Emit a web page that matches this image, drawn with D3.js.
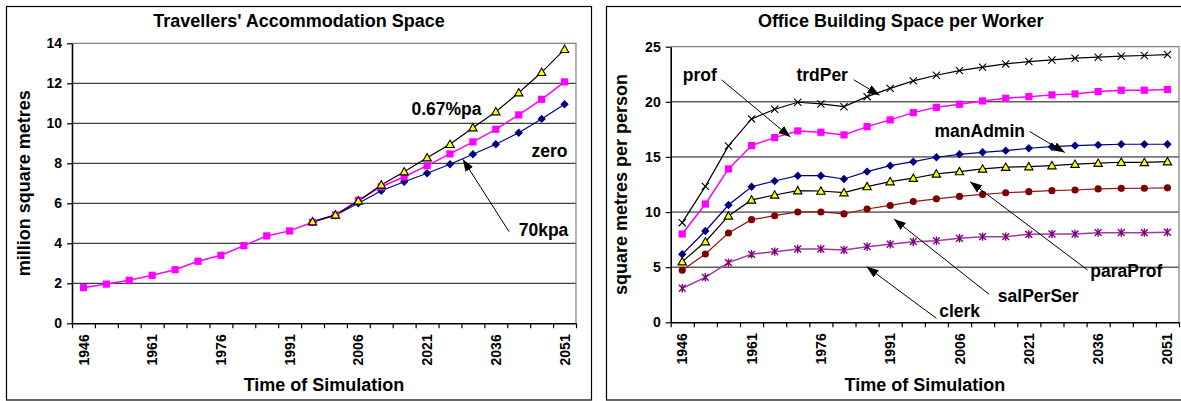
<!DOCTYPE html>
<html>
<head>
<meta charset="utf-8">
<script src="https://cdn.jsdelivr.net/npm/d3@7"></script>
<style>
  html, body { margin: 0; padding: 0; background: #fff; }
  svg { display: block; }
  text { font-family: "Liberation Sans", Arial, sans-serif; font-weight: bold; fill: #000; }
</style>
</head>
<body>
<script>
// Simulation years (category axis)
const years = [1946, 1951, 1956, 1961, 1966, 1971, 1976, 1981, 1986, 1991, 1996,
               2001, 2006, 2011, 2016, 2021, 2026, 2031, 2036, 2041, 2046, 2051];
const yearLabels = [1946, 1961, 1976, 1991, 2006, 2021, 2036, 2051];

// Travellers' accommodation space, million square metres
const travZero = [1.78, 1.96, 2.15, 2.4, 2.68, 3.1, 3.4, 3.88, 4.37, 4.62, 5.05,
                  5.42, 6.15, 6.83, 7.33, 7.88, 8.47, 9.07, 9.7, 10.42, 11.2, 12.07];
const trav067 = [null, null, null, null, null, null, null, null, null, null, 5.08,
                 5.42, 6.12, 6.92, 7.58, 8.28, 8.95, 9.78, 10.58, 11.53, 12.55, 13.7];
const trav70k = [null, null, null, null, null, null, null, null, null, null, 5.05,
                 5.4, 6.0, 6.63, 7.08, 7.5, 7.95, 8.45, 8.95, 9.53, 10.22, 10.95];
const travTicks = [0, 2, 4, 6, 8, 10, 12, 14];

// Office building space per worker, square metres per person
const trdPer = [9.04, 12.33, 16.0, 18.45, 19.33, 19.96, 19.81, 19.56, 20.47, 21.22, 21.9,
                22.41, 22.83, 23.14, 23.44, 23.65, 23.8, 23.96, 24.05, 24.14, 24.2, 24.29];
const prof = [8.01, 10.73, 13.91, 16.03, 16.75, 17.36, 17.24, 17.0, 17.75, 18.36, 19.02,
              19.5, 19.78, 20.08, 20.33, 20.47, 20.63, 20.72, 20.93, 21.05, 21.05, 21.11];
const manAdmin = [6.17, 8.28, 10.64, 12.3, 12.82, 13.3, 13.3, 13.0, 13.67, 14.21, 14.57,
                  14.97, 15.24, 15.42, 15.57, 15.79, 15.93, 16.03, 16.09, 16.15, 16.15, 16.15];
const paraProf = [5.5, 7.31, 9.65, 11.1, 11.55, 11.94, 11.91, 11.76, 12.31, 12.76, 13.07,
                  13.46, 13.67, 13.91, 14.07, 14.12, 14.21, 14.34, 14.43, 14.52, 14.5, 14.57];
const salPerSer = [4.72, 6.2, 8.1, 9.31, 9.67, 10.01, 10.01, 9.83, 10.28, 10.6, 10.95,
                   11.2, 11.42, 11.6, 11.75, 11.85, 11.94, 12.0, 12.1, 12.15, 12.16, 12.2];
const clerk = [3.09, 4.08, 5.41, 6.17, 6.41, 6.65, 6.65, 6.56, 6.86, 7.08, 7.31,
               7.4, 7.62, 7.77, 7.77, 7.98, 8.01, 8.01, 8.13, 8.13, 8.13, 8.17];
const officeTicks = [0, 5, 10, 15, 20, 25];

// Marker shapes, centred on (0,0)
const markerPaths = {
  square: "M-3.6,-3.6H3.6V3.6H-3.6Z",
  diamond: "M0,-4.2L4.2,0L0,4.2L-4.2,0Z",
  triangle: "M0,-4.2L4.2,3.2L-4.2,3.2Z",
  circle: d3.symbol(d3.symbolCircle, 40)(),
  cross: "M-3.6,-3.6L3.6,3.6M3.6,-3.6L-3.6,3.6",
  star: "M-3.4,-3.4L3.4,3.4M3.4,-3.4L-3.4,3.4M0,-4.2V4.2"
};

const svg = d3.select("body").append("svg")
  .attr("width", 1181).attr("height", 401);

svg.append("defs").append("marker")
  .attr("id", "arrowHead")
  .attr("markerUnits", "userSpaceOnUse")
  .attr("viewBox", "0 -5 12 10")
  .attr("refX", 12).attr("refY", 0)
  .attr("markerWidth", 12).attr("markerHeight", 10)
  .attr("orient", "auto")
  .append("path").attr("d", "M0,-4.5L12,0L0,4.5Z").attr("fill", "#000");

function drawChart(cfg) {
  const g = svg.append("g");
  const [bx0, by0, bx1, by1] = cfg.box;
  g.append("rect")
    .attr("x", bx0).attr("y", by0).attr("width", bx1 - bx0).attr("height", by1 - by0)
    .attr("fill", "#fff").attr("stroke", "#000").attr("stroke-width", 1.2);

  const [px0, py0, px1, py1] = cfg.plot;
  const x = d3.scaleBand().domain(years).range([px0, px1]).padding(0);
  const cx = d => x(d) + x.bandwidth() / 2;
  const y = d3.scaleLinear().domain([0, d3.max(cfg.ticks)]).range([py1, py0]);
  // year scale for placing callouts between categories
  const yr = d3.scaleLinear().domain([years[0], years[years.length - 1]])
    .range([cx(years[0]), cx(years[years.length - 1])]);

  // title
  g.append("text").attr("x", (bx0 + bx1) / 2).attr("y", cfg.titleY)
    .attr("text-anchor", "middle").style("font-size", "18px").text(cfg.title);

  // gridlines
  g.append("g").selectAll("line").data(cfg.ticks.slice(1, -1)).join("line")
    .attr("x1", px0).attr("x2", px1)
    .attr("y1", d => y(d)).attr("y2", d => y(d))
    .attr("stroke", "#111").attr("stroke-width", 1);

  // plot frame (top and right)
  g.append("path")
    .attr("d", `M${px0},${py0}H${px1}V${py1}`)
    .attr("fill", "none").attr("stroke", "#808080").attr("stroke-width", 1.2);

  // y axis
  const ya = g.append("g").attr("transform", `translate(${px0},0)`)
    .call(d3.axisLeft(y).tickValues(cfg.ticks).tickSize(5).tickPadding(5).tickSizeOuter(0));
  ya.select(".domain").attr("stroke", "#000").attr("stroke-width", 1.6);
  ya.selectAll(".tick line").attr("stroke", "#000").attr("stroke-width", 1.2);
  ya.selectAll("text").style("font-size", "14px").style("font-family", null);

  // x axis: tick marks on category boundaries
  const bounds = d3.scaleLinear().domain([0, years.length]).range([px0, px1]);
  const xa = g.append("g").attr("transform", `translate(0,${py1})`)
    .call(d3.axisBottom(bounds).tickValues(d3.range(years.length + 1))
      .tickFormat("").tickSize(5).tickSizeOuter(0));
  xa.select(".domain").attr("stroke", "#000").attr("stroke-width", 1.6);
  xa.selectAll(".tick line").attr("stroke", "#000").attr("stroke-width", 1.2);

  // x labels, rotated
  g.append("g").selectAll("text").data(yearLabels).join("text")
    .attr("transform", d => `translate(${cx(d)},${py1 + 11}) rotate(-90)`)
    .attr("text-anchor", "end").attr("dy", "0.36em")
    .style("font-size", "14px").text(d => d);

  // axis titles
  g.append("text").attr("x", (px0 + px1) / 2).attr("y", cfg.xTitleY)
    .attr("text-anchor", "middle").style("font-size", "18px").text("Time of Simulation");
  g.append("text")
    .attr("transform", `translate(${cfg.yTitleX},${(py0 + py1) / 2}) rotate(-90)`)
    .attr("text-anchor", "middle").style("font-size", "18px").text(cfg.yTitle);

  // series
  cfg.series.forEach(s => {
    const pts = years.map((yv, i) => ({ year: yv, v: s.values[i] })).filter(p => p.v != null);
    g.append("path").datum(pts)
      .attr("d", d3.line().x(p => cx(p.year)).y(p => y(p.v)))
      .attr("fill", "none").attr("stroke", s.line).attr("stroke-width", s.lineWidth || 1.2);
  });
  cfg.series.forEach(s => {
    const pts = years.map((yv, i) => ({ year: yv, v: s.values[i] })).filter(p => p.v != null);
    g.append("g").selectAll("path").data(pts).join("path")
      .attr("transform", p => `translate(${cx(p.year)},${y(p.v)})`)
      .attr("d", markerPaths[s.marker])
      .attr("fill", s.fill || "none")
      .attr("stroke", s.stroke || "none")
      .attr("stroke-width", s.strokeWidth || 1);
  });

  // callouts
  cfg.notes.forEach(n => {
    g.append("text").attr("x", yr(n.at[0])).attr("y", y(n.at[1]))
      .style("font-size", "17.5px").text(n.text);
    if (n.from) {
      g.append("line")
        .attr("x1", yr(n.from[0])).attr("y1", y(n.from[1]))
        .attr("x2", yr(n.to[0])).attr("y2", y(n.to[1]))
        .attr("stroke", "#000").attr("stroke-width", 1)
        .attr("marker-end", "url(#arrowHead)");
    }
  });
}

drawChart({
  box: [6.5, 6.5, 591.5, 400],
  plot: [72, 43.3, 576, 323.3],
  title: "Travellers' Accommodation Space",
  titleY: 27,
  yTitle: "million square metres",
  yTitleX: 30,
  xTitleY: 391,
  ticks: travTicks,
  series: [
    { values: trav70k, line: "#000080", marker: "diamond", fill: "#000080" },
    { values: travZero, line: "#ff00ff", lineWidth: 1.5, marker: "square", fill: "#ff00ff" },
    { values: trav067, line: "#000", marker: "triangle", fill: "#ffff00", stroke: "#000", strokeWidth: 1.1 }
  ],
  notes: [
    { text: "0.67%pa", at: [2017.6, 10.4] },
    { text: "zero", at: [2043.8, 8.33] },
    { text: "70kpa", at: [2041, 4.37], from: [2038.9, 4.58], to: [2028.8, 8.2] }
  ]
});

drawChart({
  box: [606.5, 6.5, 1195, 400],
  plot: [670.7, 46.7, 1179, 322.3],
  title: "Office Building Space per Worker",
  titleY: 27,
  yTitle: "square metres per person",
  yTitleX: 627,
  xTitleY: 391,
  ticks: officeTicks,
  series: [
    { values: clerk, line: "#9b3d9b", lineWidth: 1.5, marker: "star", stroke: "#800080", strokeWidth: 1.4 },
    { values: salPerSer, line: "#8b1a1a", marker: "circle", fill: "#800000" },
    { values: paraProf, line: "#000", marker: "triangle", fill: "#ffff00", stroke: "#000", strokeWidth: 1.1 },
    { values: manAdmin, line: "#000080", marker: "diamond", fill: "#000080" },
    { values: prof, line: "#ff00ff", lineWidth: 1.5, marker: "square", fill: "#ff00ff" },
    { values: trdPer, line: "#000", marker: "cross", stroke: "#000", strokeWidth: 1.1 }
  ],
  notes: [
    { text: "prof", at: [1946.1, 21.9], from: [1954.5, 22.0], to: [1969.4, 16.8] },
    { text: "trdPer", at: [1970.7, 21.9], from: [1983.1, 22.0], to: [1988.7, 20.6] },
    { text: "manAdmin", at: [2000.6, 16.8], from: [2021.2, 17.3], to: [2028.8, 15.4] },
    { text: "paraProf", at: [2034.3, 4.08], from: [2033.7, 4.75], to: [2008.3, 12.76] },
    { text: "salPerSer", at: [2014.3, 1.87], from: [2012.4, 2.54], to: [1991.8, 9.37] },
    { text: "clerk", at: [2001.6, 0.45], from: [2001.0, 0.36], to: [1985.9, 5.05] }
  ]
});
</script>
</body>
</html>
